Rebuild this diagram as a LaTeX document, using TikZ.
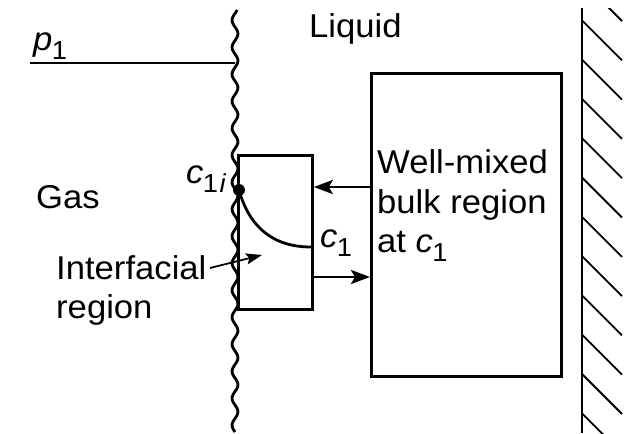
\documentclass[tikz,border=0pt]{standalone}
\usepackage{fontspec}
\setmainfont{Liberation Sans}[FakeStretch=1.05]
\usetikzlibrary{arrows.meta}
\newcommand\vsub[1]{\raisebox{-0.3em}{\fontsize{26}{26}\selectfont #1}}
\newcommand\vit[1]{\textit{#1}\kern-0.02em}
\begin{document}
\begin{tikzpicture}[x=1pt,y=-1pt,
  lw/.style={line width=2.8pt},
  thin lw/.style={line width=1.8pt},
  arr/.style={lw,-{Stealth[length=19pt,width=14pt,inset=4pt]}},
  lbl/.style={anchor=base west,inner sep=0pt,font=\fontsize{33}{33}\selectfont},
  box/.style={draw,lw,inner sep=0pt,anchor=north west}]
\useasboundingbox (0,0) rectangle (625,434);
% interface
\draw[lw] plot[smooth,domain=10:432,samples=160] ({235+3*sin(\x*13.3333)},\x);
% wall
\draw[lw] (582,8) -- (582,433);
\begin{scope}
\clip (582,8) rectangle (625,434);
\foreach \k in {0,...,11} {
  \draw[thin lw] (582,{-19+39.3*\k}) -- ++(40,40);
}
\end{scope}
% boxes
\node[box,minimum width=74pt,minimum height=154pt] (small) at (237,154) {};
\node[box,minimum width=190pt,minimum height=303pt] (big) at (370,72) {};
% p1 line
\coordinate (pstart) at (30,63);
\coordinate (iface) at (235,63);
\draw[lw] (pstart) -- (iface);
\node[lbl] (p1) at (33,50) {\vit{p}\vsub{1}};
\node[lbl] (liquid) at (309,37) {Liquid};
\node[lbl] (gas) at (36,208) {Gas};
\node[lbl] (inter) at (56,279) {Interfacial};
\node[lbl] (region) at (56,318) {region};
\node[lbl] (bulk1) at (377,173) {Well-mixed};
\node[lbl] (bulk2) at (377,213) {bulk region};
\node[lbl] (bulk3) at (377,252) {at \vit{c}\vsub{1}};
\node[lbl] (c1i) at (186,183) {\vit{c}\vsub{1\kern0.06em\textit{i}}};
\node[lbl] (c1) at (320,247) {\vit{c}\vsub{1}};
% profile
\node[circle,fill,inner sep=0pt,minimum size=12pt] (dot) at (239,190) {};
\coordinate (c1pt) at (311,247);
\draw[lw] (dot.center) .. controls (249,226) and (272,247) .. (c1pt);
% fluxes
\draw[arr] (big.west |- 0,187) -- (small.east |- 0,187);
\draw[arr] (small.east |- 0,277) -- (big.west |- 0,277);
\coordinate (iarrow) at (262,255);
\draw[thin lw,-{Stealth[length=16pt,width=11pt,inset=3pt]}] (210,268) -- (iarrow);
\end{tikzpicture}
\end{document}
